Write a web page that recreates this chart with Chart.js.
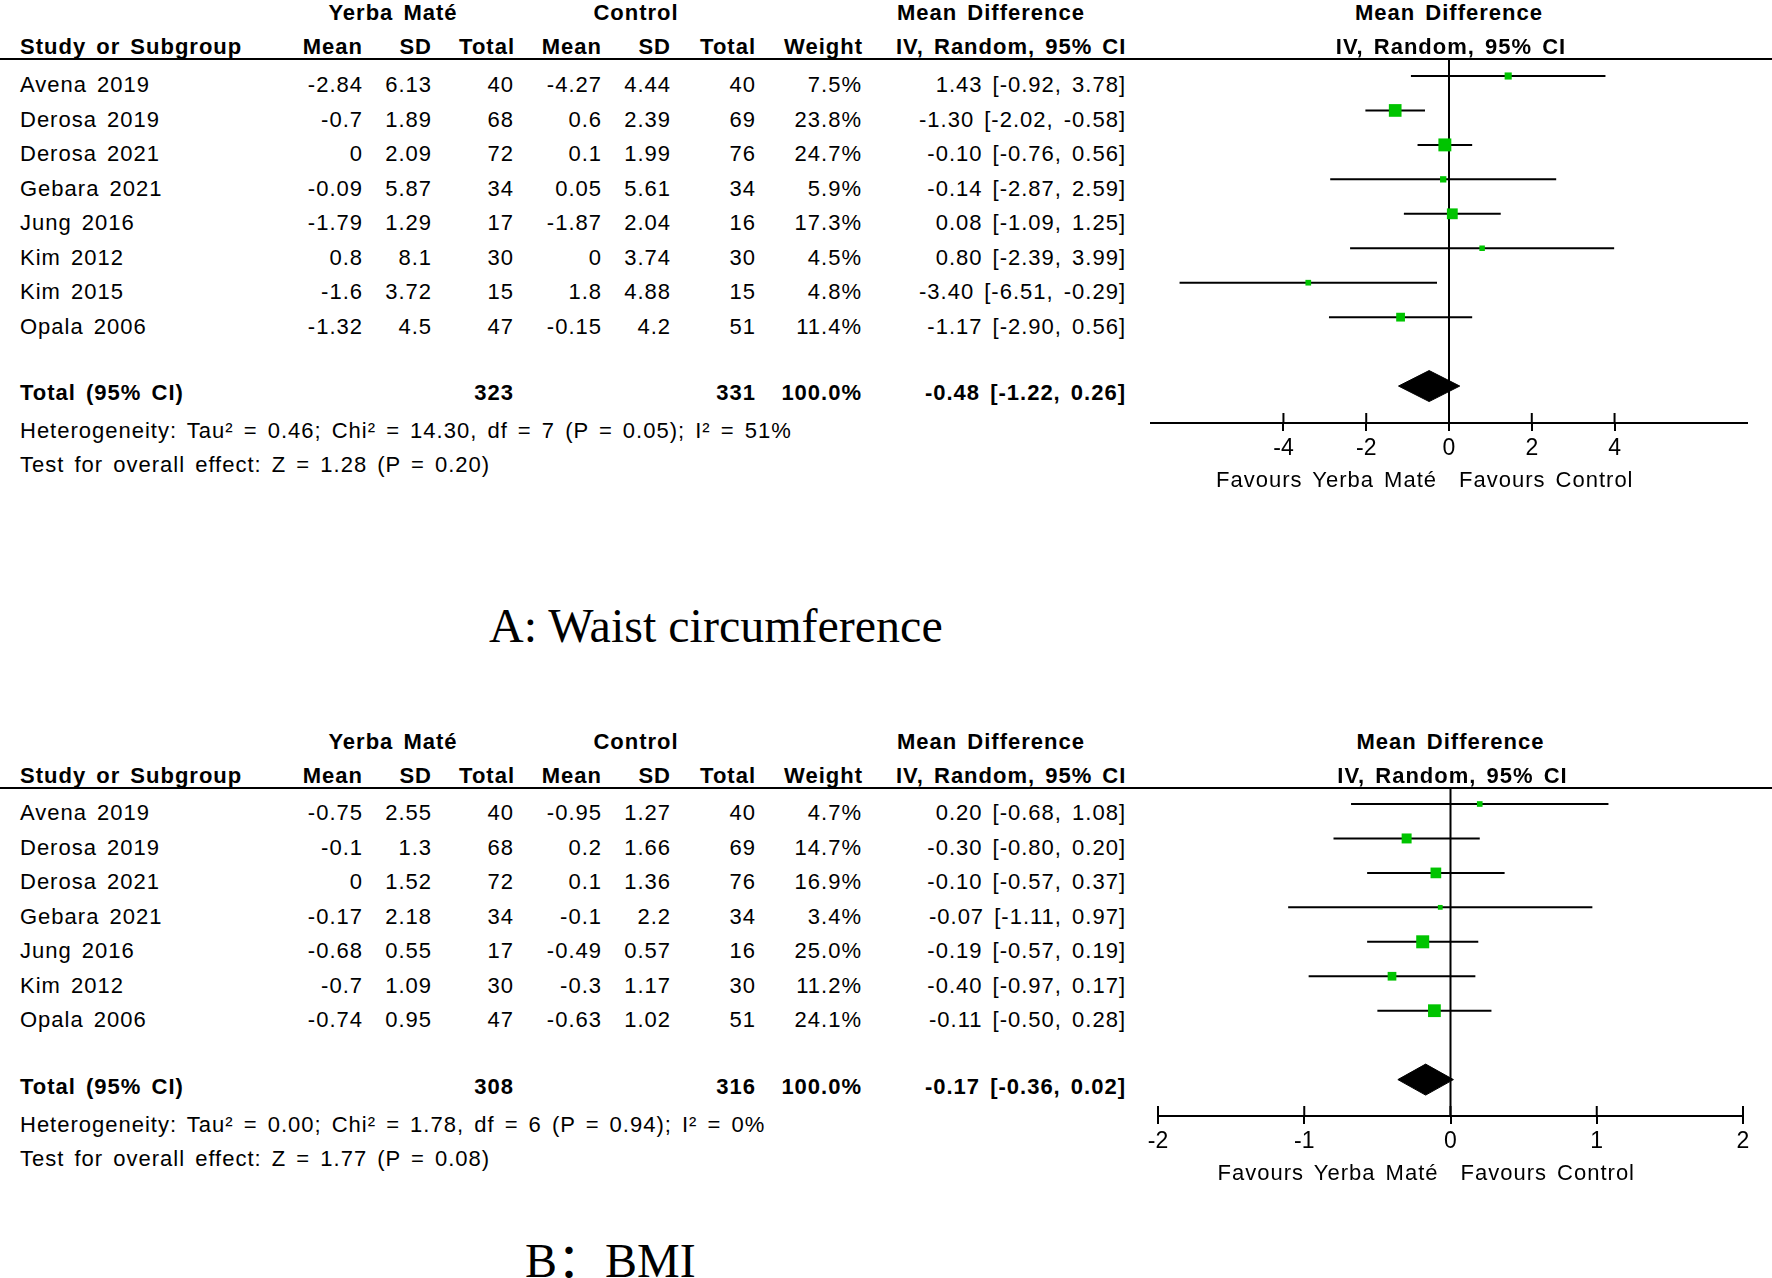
<!DOCTYPE html>
<html>
<head>
<meta charset="utf-8">
<title>Yerba Maté forest plots</title>
<script src="https://cdn.jsdelivr.net/npm/chart.js@4.4.0/dist/chart.umd.min.js"></script>
<style>
    html, body { margin: 0; padding: 0; background: #fff; }
    #page {
        position: relative;
        width: 1772px;
        height: 1278px;
        overflow: hidden;
        background: #fff;
        color: #000;
        font-family: "Liberation Sans", Arial, sans-serif;
    }
    .t {
        position: absolute;
        font-size: 22px;
        line-height: 22px;
        white-space: nowrap;
        letter-spacing: 1px;
        word-spacing: 3px;
    }
    .b { font-weight: bold; }
    .rule { position: absolute; left: 0; width: 1772px; height: 2px; background: #000; }
    .title {
        position: absolute;
        font-family: "Liberation Serif", "Times New Roman", "Noto Sans CJK SC", serif;
        font-size: 48px;
        line-height: 48px;
        white-space: nowrap;
    }
    canvas { position: absolute; }
</style>
</head>
<body>
<div id="page"></div>
<script>
// ---- Waist circumference (panel A) ----
const WC_STUDIES = ['Avena 2019', 'Derosa 2019', 'Derosa 2021', 'Gebara 2021', 'Jung 2016', 'Kim 2012', 'Kim 2015', 'Opala 2006'];
const WC_YM_MEAN = [-2.84, -0.7, 0, -0.09, -1.79, 0.8, -1.6, -1.32];
const WC_YM_SD = [6.13, 1.89, 2.09, 5.87, 1.29, 8.1, 3.72, 4.5];
const WC_YM_N = [40, 68, 72, 34, 17, 30, 15, 47];
const WC_CT_MEAN = [-4.27, 0.6, 0.1, 0.05, -1.87, 0, 1.8, -0.15];
const WC_CT_SD = [4.44, 2.39, 1.99, 5.61, 2.04, 3.74, 4.88, 4.2];
const WC_CT_N = [40, 69, 76, 34, 16, 30, 15, 51];
const WC_WEIGHT = [7.5, 23.8, 24.7, 5.9, 17.3, 4.5, 4.8, 11.4];
const WC_MD = [1.43, -1.30, -0.10, -0.14, 0.08, 0.80, -3.40, -1.17];
const WC_LO = [-0.92, -2.02, -0.76, -2.87, -1.09, -2.39, -6.51, -2.90];
const WC_HI = [3.78, -0.58, 0.56, 2.59, 1.25, 3.99, -0.29, 0.56];
const WC_TOTAL_N = [323, 331];
const WC_POOLED = [-0.48, -1.22, 0.26];          // estimate, lower, upper
const WC_HETERO = [0.46, 14.30, 7, 0.05, 51];     // tau², chi², df, P, I²
const WC_OVERALL = [1.28, 0.20];                  // Z, P
const WC_TICKS = [-4, -2, 0, 2, 4];
const WC_RANGE = [-7.2, 7.2];

// ---- BMI (panel B) ----
const BMI_STUDIES = ['Avena 2019', 'Derosa 2019', 'Derosa 2021', 'Gebara 2021', 'Jung 2016', 'Kim 2012', 'Opala 2006'];
const BMI_YM_MEAN = [-0.75, -0.1, 0, -0.17, -0.68, -0.7, -0.74];
const BMI_YM_SD = [2.55, 1.3, 1.52, 2.18, 0.55, 1.09, 0.95];
const BMI_YM_N = [40, 68, 72, 34, 17, 30, 47];
const BMI_CT_MEAN = [-0.95, 0.2, 0.1, -0.1, -0.49, -0.3, -0.63];
const BMI_CT_SD = [1.27, 1.66, 1.36, 2.2, 0.57, 1.17, 1.02];
const BMI_CT_N = [40, 69, 76, 34, 16, 30, 51];
const BMI_WEIGHT = [4.7, 14.7, 16.9, 3.4, 25.0, 11.2, 24.1];
const BMI_MD = [0.20, -0.30, -0.10, -0.07, -0.19, -0.40, -0.11];
const BMI_LO = [-0.68, -0.80, -0.57, -1.11, -0.57, -0.97, -0.50];
const BMI_HI = [1.08, 0.20, 0.37, 0.97, 0.19, 0.17, 0.28];
const BMI_TOTAL_N = [308, 316];
const BMI_POOLED = [-0.17, -0.36, 0.02];
const BMI_HETERO = [0.00, 1.78, 6, 0.94, 0];
const BMI_OVERALL = [1.77, 0.08];
const BMI_TICKS = [-2, -1, 0, 1, 2];
const BMI_RANGE = [-2, 2];

const PAGE_W = 1772;
const FONT = '"Liberation Sans", Arial, sans-serif';
const SQUARE_GREEN = '#00c400';
const BASELINE_OFFSET = 18.6;   // 22px text, 22px line-height
const CANVAS_LEFT = 1100;
const AXIS_BOX = 70;

class ForestPanel {
    constructor(page, d, layout) {
        this.page = page;
        this.d = d;
        this.l = layout;
        this.drawTable();
        this.drawChart();
    }

    text(str, x, baseline, align, bold) {
        const el = document.createElement('div');
        el.className = 't' + (bold ? ' b' : '');
        el.textContent = str;
        el.style.top = (baseline - BASELINE_OFFSET) + 'px';
        if (align === 'right') {
            el.style.right = (PAGE_W - x - 1) + 'px';
        } else if (align === 'center') {
            el.style.left = x + 'px';
            el.style.transform = 'translateX(-50%)';
        } else {
            el.style.left = x + 'px';
        }
        this.page.appendChild(el);
        return el;
    }

    ciText(md, lo, hi) {
        return `${md.toFixed(2)} [${lo.toFixed(2)}, ${hi.toFixed(2)}]`;
    }

    drawTable() {
        const d = this.d, l = this.l;
        const h1 = l.ruleY - 38, h2 = l.ruleY - 4;

        // header
        this.text('Yerba Maté', 393, h1, 'center', true);
        this.text('Control', 636, h1, 'center', true);
        this.text('Mean Difference', 897, h1, 'left', true);
        this.text('Study or Subgroup', 20, h2, 'left', true);
        this.text('Mean', 362, h2, 'right', true);
        this.text('SD', 431, h2, 'right', true);
        this.text('Total', 514, h2, 'right', true);
        this.text('Mean', 601, h2, 'right', true);
        this.text('SD', 670, h2, 'right', true);
        this.text('Total', 755, h2, 'right', true);
        this.text('Weight', 862, h2, 'right', true);
        this.text('IV, Random, 95% CI', 896, h2, 'left', true);

        const rule = document.createElement('div');
        rule.className = 'rule';
        rule.style.top = (l.ruleY - 1) + 'px';
        this.page.appendChild(rule);

        // study rows
        d.studies.forEach((name, i) => {
            const y = l.rowY0 + i * l.pitch + 17;
            this.text(name, 20, y, 'left');
            this.text(String(d.ymMean[i]), 362, y, 'right');
            this.text(String(d.ymSd[i]), 431, y, 'right');
            this.text(String(d.ymN[i]), 513, y, 'right');
            this.text(String(d.ctMean[i]), 601, y, 'right');
            this.text(String(d.ctSd[i]), 670, y, 'right');
            this.text(String(d.ctN[i]), 755, y, 'right');
            this.text(d.weight[i].toFixed(1) + '%', 861, y, 'right');
            this.text(this.ciText(d.md[i], d.lo[i], d.hi[i]), 1125, y, 'right');
        });

        // totals
        const ty = l.rowY0 + (d.studies.length + 1) * l.pitch + 15;
        this.text('Total (95% CI)', 20, ty, 'left', true);
        this.text(String(d.totalN[0]), 513, ty, 'right', true);
        this.text(String(d.totalN[1]), 755, ty, 'right', true);
        this.text('100.0%', 861, ty, 'right', true);
        this.text(this.ciText(d.pooled[0], d.pooled[1], d.pooled[2]), 1125, ty, 'right', true);

        const het = d.hetero;
        this.text(`Heterogeneity: Tau² = ${het[0].toFixed(2)}; Chi² = ${het[1].toFixed(2)}, df = ${het[2]} (P = ${het[3].toFixed(2)}); I² = ${het[4]}%`, 20, ty + 38, 'left');
        this.text(`Test for overall effect: Z = ${d.overall[0].toFixed(2)} (P = ${d.overall[1].toFixed(2)})`, 20, ty + 72, 'left');
    }

    drawChart() {
        const d = this.d, l = this.l;
        const canvasTop = l.ruleY - 20;
        const canvas = document.createElement('canvas');
        canvas.width = PAGE_W - CANVAS_LEFT;
        canvas.height = l.axisY - canvasTop + AXIS_BOX;
        canvas.style.left = CANVAS_LEFT + 'px';
        canvas.style.top = canvasTop + 'px';
        canvas.style.width = canvas.width + 'px';
        canvas.style.height = canvas.height + 'px';
        this.page.appendChild(canvas);

        const yMin = -(l.rowY0 - l.ruleY) / l.pitch;
        const yMax = (l.axisY - l.rowY0) / l.pitch;
        const dRow = d.studies.length + 1;
        const half = 15.5 / l.pitch;

        const datasets = [];

        // squares sized by weight (area proportional)
        datasets.push({
            data: d.md.map((m, i) => ({ x: m, y: i })),
            showLine: false,
            pointStyle: 'rect',
            pointRadius: d.weight.map(w => 2.6 * Math.sqrt(w) / Math.SQRT2),
            pointBackgroundColor: SQUARE_GREEN,
            pointBorderWidth: 0,
            order: 0
        });

        // pooled diamond
        const [est, lo, hi] = d.pooled;
        datasets.push({
            data: [
                { x: lo, y: dRow }, { x: est, y: dRow - half },
                { x: hi, y: dRow }, { x: est, y: dRow + half }, { x: lo, y: dRow }
            ],
            borderColor: '#000',
            backgroundColor: '#000',
            borderWidth: 1,
            fill: 'shape',
            tension: 0,
            pointRadius: 0,
            order: 0
        });

        // confidence intervals
        d.studies.forEach((s, i) => {
            datasets.push({
                data: [{ x: d.lo[i], y: i }, { x: d.hi[i], y: i }],
                borderColor: '#000',
                borderWidth: 2,
                pointRadius: 0,
                order: 1
            });
        });

        // line of no effect
        datasets.push({
            data: [{ x: 0, y: yMin }, { x: 0, y: yMax }],
            borderColor: '#000',
            borderWidth: 2,
            pointRadius: 0,
            order: 2
        });

        const ticks = d.ticks;
        const upperTicks = {
            id: 'upperTicks',
            afterDraw(chart) {
                const sx = chart.scales.x, ctx = chart.ctx, y = chart.chartArea.bottom;
                ctx.save();
                ctx.strokeStyle = '#000';
                ctx.lineWidth = 2;
                sx.ticks.forEach(t => {
                    const px = sx.getPixelForValue(t.value);
                    ctx.beginPath();
                    ctx.moveTo(px, y - 10);
                    ctx.lineTo(px, y);
                    ctx.stroke();
                });
                ctx.restore();
            }
        };

        this.chart = new Chart(canvas.getContext('2d'), {
            type: 'line',
            data: { datasets },
            options: {
                responsive: false,
                animation: false,
                events: [],
                layout: {
                    padding: {
                        top: 20,
                        bottom: 0,
                        left: l.plotLeft - CANVAS_LEFT,
                        right: PAGE_W - l.plotRight
                    }
                },
                plugins: { legend: { display: false }, tooltip: { enabled: false } },
                scales: {
                    x: {
                        type: 'linear',
                        min: d.range[0],
                        max: d.range[1],
                        afterBuildTicks: scale => { scale.ticks = ticks.map(v => ({ value: v })); },
                        afterFit: scale => { scale.height = AXIS_BOX; },
                        ticks: {
                            color: '#000',
                            padding: 4,
                            maxRotation: 0,
                            font: { family: FONT, size: 23 }
                        },
                        grid: {
                            drawOnChartArea: false,
                            drawTicks: true,
                            tickLength: 8,
                            color: '#000',
                            lineWidth: 2
                        },
                        border: { display: true, color: '#000', width: 2 }
                    },
                    y: {
                        type: 'linear',
                        display: false,
                        reverse: true,
                        min: yMin,
                        max: yMax
                    }
                }
            },
            plugins: [upperTicks]
        });

        // labels tied to the zero of the axis
        const zeroX = CANVAS_LEFT + this.chart.scales.x.getPixelForValue(0);
        this.text('Mean Difference', zeroX, l.ruleY - 38, 'center', true);
        this.text('IV, Random, 95% CI', zeroX + 2, l.ruleY - 4, 'center', true);
        const fy = l.axisY + 65;
        this.text('Favours Yerba Maté', zeroX - 13, fy, 'right');
        this.text('Favours Control', zeroX + 10, fy, 'left');
    }
}

function addTitle(page, str, x, baseline) {
    const el = document.createElement('div');
    el.className = 'title';
    el.textContent = str;
    el.style.left = x + 'px';
    el.style.top = (baseline - 40.4) + 'px';
    page.appendChild(el);
}

document.addEventListener('DOMContentLoaded', () => {
    const page = document.getElementById('page');

    new ForestPanel(page, {
        studies: WC_STUDIES, ymMean: WC_YM_MEAN, ymSd: WC_YM_SD, ymN: WC_YM_N,
        ctMean: WC_CT_MEAN, ctSd: WC_CT_SD, ctN: WC_CT_N, weight: WC_WEIGHT,
        md: WC_MD, lo: WC_LO, hi: WC_HI, totalN: WC_TOTAL_N, pooled: WC_POOLED,
        hetero: WC_HETERO, overall: WC_OVERALL, ticks: WC_TICKS, range: WC_RANGE
    }, { ruleY: 59, rowY0: 76, pitch: 34.45, axisY: 423, plotLeft: 1151, plotRight: 1747 });

    new ForestPanel(page, {
        studies: BMI_STUDIES, ymMean: BMI_YM_MEAN, ymSd: BMI_YM_SD, ymN: BMI_YM_N,
        ctMean: BMI_CT_MEAN, ctSd: BMI_CT_SD, ctN: BMI_CT_N, weight: BMI_WEIGHT,
        md: BMI_MD, lo: BMI_LO, hi: BMI_HI, totalN: BMI_TOTAL_N, pooled: BMI_POOLED,
        hetero: BMI_HETERO, overall: BMI_OVERALL, ticks: BMI_TICKS, range: BMI_RANGE
    }, { ruleY: 788, rowY0: 804, pitch: 34.45, axisY: 1116, plotLeft: 1158, plotRight: 1743 });

    addTitle(page, 'A: Waist circumference', 489, 642);
    addTitle(page, 'B：BMI', 525, 1277);
});
</script>
</body>
</html>
